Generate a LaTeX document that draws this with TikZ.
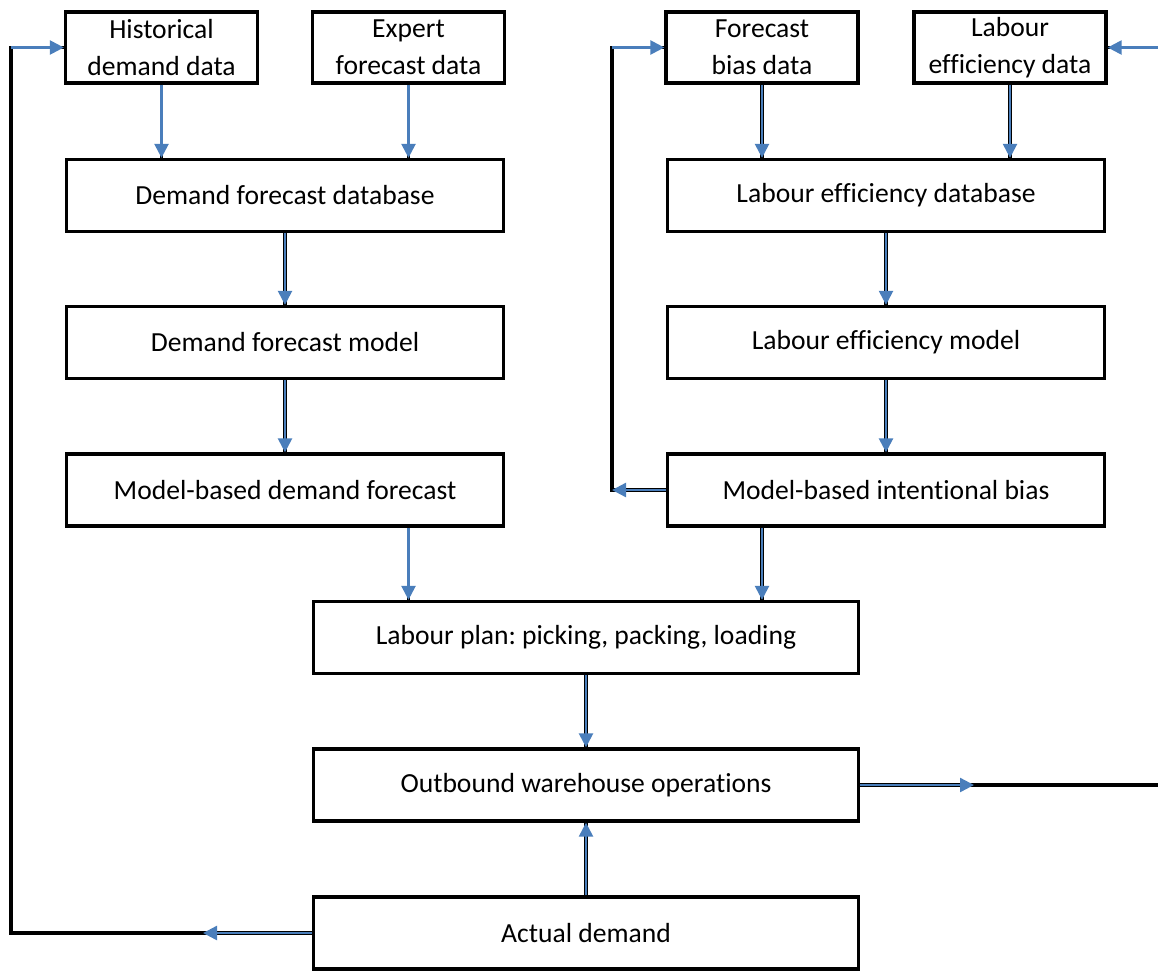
\documentclass[tikz,border=0pt]{standalone}
\usepackage{fontspec}
\setmainfont{Carlito}[Ligatures=NoCommon]
\usetikzlibrary{arrows.meta,calc}
\definecolor{arrowblue}{RGB}{74,126,187}
\frenchspacing
\tikzset{
  box/.style={draw=black, line width=3.3pt, fill=white, align=center,
    inner sep=0pt, font=\fontsize{27.6}{37}\selectfont},
  smallbox/.style={box, minimum width=192pt, minimum height=71pt},
  widebox/.style={box, minimum width=437pt, minimum height=72pt},
  plan/.style={box, minimum width=545pt, minimum height=72pt},
  blk/.style={draw=black, line width=3.3pt},
  blu/.style={draw=arrowblue, line width=2.4pt,
    -{Triangle[length=14pt,width=14pt,fill=arrowblue]}}
}
\begin{document}
\begin{tikzpicture}[x=1pt,y=-1pt]
\useasboundingbox (0,0) rectangle (1158,972);

\node[smallbox] (hist) at (161.5,47.5) {Historical\\demand data};
\node[smallbox] (exp) at (408.5,47.5) {Expert\\forecast data};
\node[smallbox] (fb) at (762,47.5) {Forecast\\bias data};
\node[smallbox] (led) at (1010,47.5) {Labour\\efficiency data};

\node[widebox] (dfd) at (285,195.5) {Demand forecast database};
\node[widebox] (ledb) at (886,195.5) {Labour efficiency database};
\node[widebox] (dfm) at (285,342.5) {Demand forecast model};
\node[widebox] (lem) at (886,342.5) {Labour efficiency model};
\node[widebox] (mbdf) at (285,490) {Model-based demand forecast};
\node[widebox] (mbib) at (886,490) {Model-based intentional bias};

\node[plan] (lp) at (586,637.5) {Labour plan: picking, packing, loading};
\node[plan] (ob) at (586,785) {Outbound warehouse operations};
\node[plan] (ad) at (586,933) {Actual demand};

\coordinate (lftB) at (11,933);
\coordinate (lftT) at (11,47.5);
\coordinate (adTip) at (203,933);
\coordinate (midB) at (612,490);
\coordinate (midT) at (612,47.5);
\coordinate (rgtB) at (1170,785);
\coordinate (rgtT) at (1170,47.5);
\coordinate (obTip) at (974,785);
\coordinate (rgtIn) at (1158,47.5);

% straight arrows
\foreach \a/\b in {hist.south/hist.south |- dfd.north,
                   exp.south/exp.south |- dfd.north,
                   fb.south/fb.south |- ledb.north,
                   led.south/led.south |- ledb.north,
                   dfd.south/dfm.north, dfm.south/mbdf.north,
                   ledb.south/lem.north, lem.south/mbib.north,
                   lp.south/ob.north, ad.north/ob.south}{
  \draw[blk] (\a) -- (\b);
  \draw[blu] (\a) -- (\b);
}
\draw[blk] (exp |- mbdf.south) -- (exp |- lp.north);
\draw[blu] (exp |- mbdf.south) -- (exp |- lp.north);
\draw[blk] (fb |- mbib.south) -- (fb |- lp.north);
\draw[blu] (fb |- mbib.south) -- (fb |- lp.north);

% feedback: actual demand -> historical demand data
\draw[blk] (ad.west) -- (lftB) -- (lftT) -- (hist.west);
\draw[blu] (ad.west) -- (adTip);
\draw[blu] (lftT) -- (hist.west);

% feedback: intentional bias -> forecast bias data
\draw[blk] (mbib.west) -- (midB) -- (midT) -- (fb.west);
\draw[blu] (mbib.west) -- (midB);
\draw[blu] (midT) -- (fb.west);

% feedback: outbound operations -> labour efficiency data
\draw[blk] (ob.east) -- (rgtB) -- (rgtT) -- (led.east);
\draw[blu] (ob.east) -- (obTip);
\draw[blu] (rgtIn) -- (led.east);
\end{tikzpicture}
\end{document}
